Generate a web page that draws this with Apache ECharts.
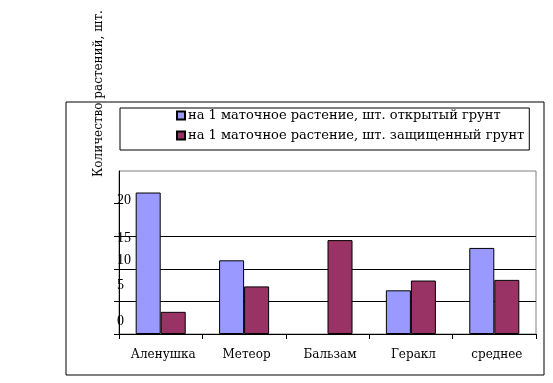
<!DOCTYPE html>
<html>
<head>
<meta charset="utf-8">
<script src="https://cdn.jsdelivr.net/npm/echarts@6/dist/echarts.min.js"></script>
<style>html,body{margin:0;padding:0;background:#fff}#c{width:553px;height:383px}</style>
</head>
<body>
<div id="c"></div>
<script>
var categories = ['Аленушка', 'Метеор', 'Бальзам', 'Геракл', 'среднее'];
var seriesNames = ['на 1 маточное растение, шт. открытый грунт', 'на 1 маточное растение, шт. защищенный грунт'];
var openGround = [21.7, 11.3, null, 6.7, 13.2];
var protectedGround = [3.4, 7.3, 14.4, 8.2, 8.3];
var yTickLabels = ['0', '5', '10', '15', '20'];
var yAxisTitle = 'Количество растений, шт.';

// vertical label shifts (px) reproducing the reference's misplaced y labels
var labelShift = { '0': -13, '5': -16, '10': -8, '15': 2, '20': -3 };
var rich = {};
yTickLabels.forEach(function (t, i) {
  var s = labelShift[t];
  rich['l' + i] = {
    fontFamily: 'Liberation Serif', fontSize: 14, color: '#000',
    padding: s < 0 ? [0, 0, -2 * s, 0] : [2 * s, 0, 0, 0]
  };
});

var FONT = 'DejaVu Serif';
var chart = echarts.init(document.getElementById('c'), null, { renderer: 'canvas' });
chart.setOption({
  backgroundColor: '#fff',
  animation: false,
  textStyle: { fontFamily: FONT, color: '#000' },
  grid: { left: 119, right: 17, top: 171, bottom: 49, show: true, borderColor: '#808080', borderWidth: 1 },
  legend: {
    orient: 'vertical', left: 120, top: 108,
    padding: [1, 5, 8, 56], itemGap: 7,
    borderColor: '#000', borderWidth: 1,
    itemWidth: 8, itemHeight: 8, icon: 'rect',
    textStyle: { fontFamily: FONT, fontSize: 13, color: '#000', padding: [0, 0, 0, -2] },
    data: seriesNames
  },
  xAxis: {
    type: 'category', data: categories,
    axisLine: { lineStyle: { color: '#000', width: 1 } },
    axisTick: { show: true, length: 5, lineStyle: { color: '#000' } },
    axisLabel: { interval: 0, fontFamily: FONT, fontSize: 12, color: '#000', margin: 15, padding: [0, 0, 0, 5] }
  },
  yAxis: {
    type: 'value', min: 0, max: 25, interval: 5,
    axisLine: { show: true, lineStyle: { color: '#000', width: 1 } },
    axisTick: { show: true, length: 5, lineStyle: { color: '#000' }, customValues: [0, 5, 10, 15, 20] },
    splitLine: { show: true, showMaxLine: false, lineStyle: { color: '#000', width: 1 } },
    axisLabel: {
      inside: true, margin: -2, align: 'left',
      showMaxLabel: false,
      formatter: function (v) {
        var i = yTickLabels.indexOf(String(v));
        return i < 0 ? '' : '{l' + i + '|' + yTickLabels[i] + '}';
      },
      rich: rich
    }
  },
  series: [
    {
      name: seriesNames[0], type: 'bar', data: openGround,
      barGap: '0%', barCategoryGap: '40%',
      itemStyle: { color: '#9999FF', borderColor: '#000', borderWidth: 1 }
    },
    {
      name: seriesNames[1], type: 'bar', data: protectedGround,
      barGap: '0%', barCategoryGap: '40%',
      itemStyle: { color: '#993366', borderColor: '#000', borderWidth: 1 }
    }
  ],
  graphic: [
    { type: 'rect', shape: { x: 66, y: 102, width: 478, height: 273 }, style: { fill: null, stroke: '#000', lineWidth: 1 }, z: 100, silent: true },
    { type: 'text', x: 99, y: 177, rotation: Math.PI / 2, style: { text: yAxisTitle, fontFamily: FONT, fontSize: 12, fill: '#000', textAlign: 'left', textVerticalAlign: 'middle' }, z: 101 }
  ]
});
</script>
</body>
</html>
